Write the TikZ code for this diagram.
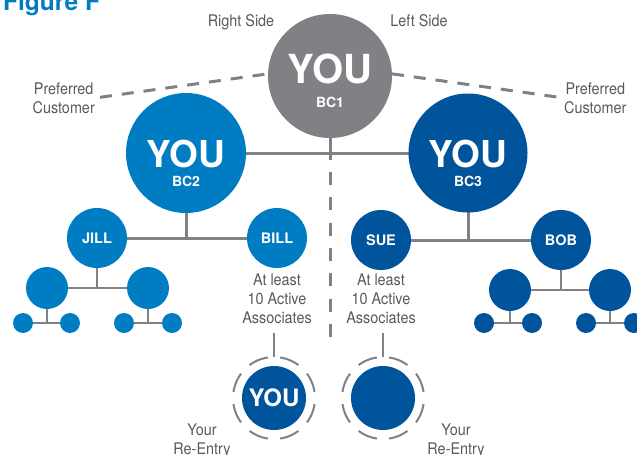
\documentclass[tikz,border=0pt]{standalone}
\usepackage{fontspec}
\setmainfont{TeX Gyre Heros}
\newfontfamily\condfont[FakeStretch=0.9]{TeX Gyre Heros}
\usetikzlibrary{backgrounds}
\definecolor{lblue}{RGB}{0,124,195}
\definecolor{dblue}{RGB}{0,84,155}
\definecolor{cgray}{RGB}{128,129,133}
\definecolor{lgray}{RGB}{128,129,133}
\definecolor{tgray}{RGB}{88,89,91}
\tikzset{
  bub/.style={circle, draw=none, inner sep=0pt, outer sep=0pt, minimum size=#1},
  conn/.style={draw=lgray, line width=3pt},
  subconn/.style={draw=lgray, line width=2.4pt},
  dashline/.style={draw=lgray, line width=3pt, dash pattern=on 13pt off 12.3pt},
  ring/.style={draw=lgray, line width=2pt, dash pattern=on 20pt off 12.2pt, dash phase=26.1pt},
  stub/.style={draw=lgray, line width=2pt},
  bigyou/.style={text=white, inner sep=0pt, anchor=base, font=\bfseries\fontsize{37}{37}\selectfont},
  bclabel/.style={text=white, inner sep=0pt, anchor=base, font=\bfseries\fontsize{14}{14}\selectfont},
  namelabel/.style={text=white, inner sep=0pt, anchor=base, font=\bfseries\fontsize{14.5}{14.5}\selectfont},
  graytext/.style={text=tgray, inner sep=0pt, align=center, font=\condfont\fontsize{16}{19}\selectfont},
}
\begin{document}
\begin{tikzpicture}[x=1pt,y=-1pt]
\useasboundingbox (0,0) rectangle (637,455);
% title
\node[anchor=base west, inner sep=0pt, text=lblue, font=\bfseries\fontsize{24.5}{24.5}\selectfont] (title) at (3,10) {Figure F};
% top level
\node[bub=124, fill=cgray] (bc1) at (330,76) {};
\node[bigyou, font=\bfseries\fontsize{40}{40}\selectfont] (you1) at (330,83) {YOU};
\node[bclabel] (bc1l) at (330,107) {BC1};
% second level
\node[bub=120, fill=lblue] (bc2) at (186,153) {};
\node[bigyou] (you2) at (186,167) {YOU};
\node[bclabel] (bc2l) at (186,186) {BC2};
\node[bub=119, fill=dblue] (bc3) at (468,153) {};
\node[bigyou] (you3) at (468,167) {YOU};
\node[bclabel] (bc3l) at (468,186) {BC3};
% third level
\node[bub=60, fill=lblue] (jill) at (97,238) {};
\node[namelabel] (jilll) at (97,243) {JILL};
\node[bub=60, fill=lblue] (bill) at (277,238) {};
\node[namelabel] (billl) at (277,243) {BILL};
\node[bub=60, fill=dblue] (sue) at (381,240) {};
\node[namelabel] (suel) at (381,245) {SUE};
\node[bub=60, fill=dblue] (bob) at (561,240) {};
\node[namelabel] (bobl) at (561,245) {BOB};
% fourth level
\node[bub=42, fill=lblue] (ja) at (47,288) {};
\node[bub=42, fill=lblue] (jb) at (148,288) {};
\node[bub=42, fill=dblue] (ba) at (510,290) {};
\node[bub=42, fill=dblue] (bb) at (610,290) {};
% fifth level
\node[bub=20, fill=lblue] (ja1) at (23,323) {};
\node[bub=20, fill=lblue] (ja2) at (70,323) {};
\node[bub=20, fill=lblue] (jb1) at (124,323) {};
\node[bub=20, fill=lblue] (jb2) at (172,323) {};
\node[bub=20, fill=dblue] (ba1) at (484,323) {};
\node[bub=20, fill=dblue] (ba2) at (532,323) {};
\node[bub=20, fill=dblue] (bb1) at (586,323) {};
\node[bub=20, fill=dblue] (bb2) at (634,323) {};
% re-entry
\node[bub=64, fill=dblue] (rel) at (274,398) {};
\node[bigyou, font=\bfseries\fontsize{24}{24}\selectfont] (youre) at (274,406) {YOU};
\node[bub=82, ring] (ringl) at (274,398) {};
\node[bub=64, fill=dblue] (rer) at (383,398) {};
\node[bub=82, ring] (ringr) at (383,398) {};
% gray texts
\node[graytext, anchor=base] (rside) at (241,27) {Right Side};
\node[graytext, anchor=base] (lside) at (419,27) {Left Side};
\node[graytext, anchor=east] (prefl) at (95,98) {Preferred\\Customer};
\node[graytext, anchor=west] (prefr) at (564,98) {Preferred\\Customer};
\node[graytext, anchor=base] (atl) at (277,323) {At least\\10 Active\\Associates};
\node[graytext, anchor=base] (atr) at (381,323) {At least\\10 Active\\Associates};
\node[graytext, anchor=base] (yrl) at (202,454) {Your\\Re-Entry};
\node[graytext, anchor=base] (yrr) at (456,454) {Your\\Re-Entry};
% connectors
\coordinate (dtop) at (330,172);
\coordinate (dbot) at (330,337);
\coordinate (sjoin) at (330,160);
\begin{pgfonlayer}{background}
\draw[conn] (bc2.center) -- (bc3.center);
\draw[conn] (bc1.center) -- (sjoin);
\draw[dashline] (dtop) -- (dbot);
\draw[conn] (jill.center) -- (bill.center);
\draw[conn] (bc2.center) -- (bc2.center |- jill.center);
\draw[conn] (sue.center) -- (bob.center);
\draw[conn] (bc3.center) -- (bc3.center |- sue.center);
\draw[subconn] (ja.center) -- (jb.center);
\draw[subconn] (jill.center) -- (jill.center |- ja.center);
\draw[subconn] (ba.center) -- (bb.center);
\draw[subconn] (bob.center) -- (bob.center |- ba.center);
\draw[subconn] (ja1.center) -- (ja2.center);
\draw[subconn] (ja.center) -- (ja.center |- ja1.center);
\draw[subconn] (jb1.center) -- (jb2.center);
\draw[subconn] (jb.center) -- (jb.center |- jb1.center);
\draw[subconn] (ba1.center) -- (ba2.center);
\draw[subconn] (ba.center) -- (ba.center |- ba1.center);
\draw[subconn] (bb1.center) -- (bb2.center);
\draw[subconn] (bb.center) -- (bb.center |- bb1.center);
\end{pgfonlayer}
\draw[dashline, dash pattern=on 12pt off 10pt, shorten <=5pt] (prefl.east) -- (bc1.178);
\draw[dashline, dash pattern=on 12pt off 10pt, shorten >=5pt] (bc1.2) -- (prefr.west);
\draw[stub, shorten <=10pt] (ringl.north |- atl.south) -- (ringl.north);
\draw[stub, shorten <=10pt] (ringr.north |- atr.south) -- (ringr.north);
\end{tikzpicture}
\end{document}
